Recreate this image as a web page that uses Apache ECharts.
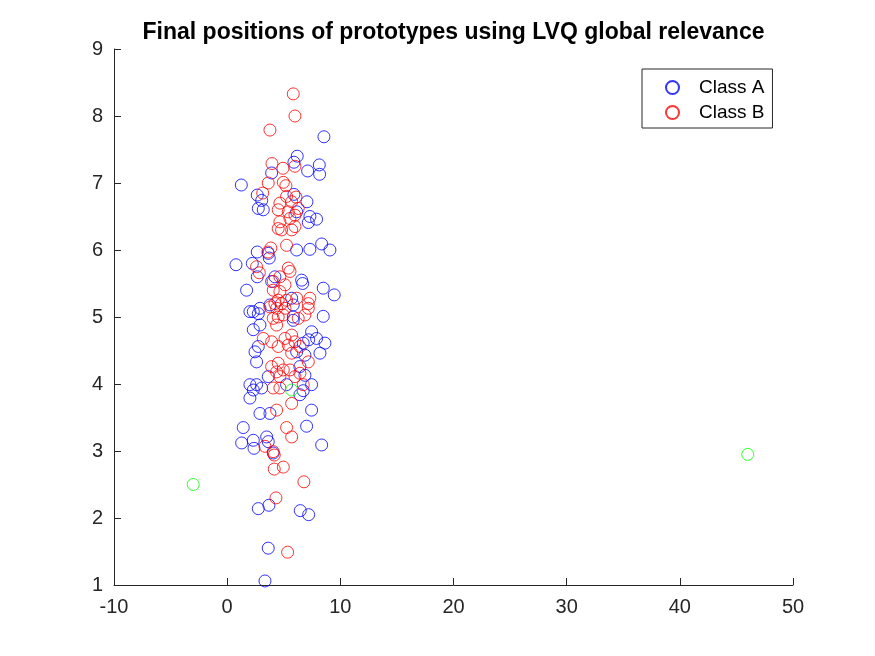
<!DOCTYPE html>
<html>
<head>
<meta charset="utf-8">
<script src="https://cdn.jsdelivr.net/npm/echarts@6/dist/echarts.min.js"></script>
<style>
html,body{margin:0;padding:0;background:#fff;}
#chart{width:875px;height:656px;}
</style>
</head>
<body>
<div id="chart"></div>
<script>
const titleText = 'Final positions of prototypes using LVQ global relevance';
const seriesNames = ['Class A', 'Class B', 'Prototypes'];
const xTicks = [-10, 0, 10, 20, 30, 40, 50];
const yTicks = [1, 2, 3, 4, 5, 6, 7, 8, 9];

const classA = [
  [8.55,7.69],[6.19,7.40],[5.9,7.31],[7.11,7.18],[8.14,7.27],[8.17,7.13],[3.93,7.15],[1.25,6.97],
  [2.66,6.82],[5.9,6.83],[7.05,6.72],[3.05,6.74],[2.75,6.62],[3.19,6.6],[6.14,6.57],[7.31,6.5],
  [7.9,6.46],[7.17,6.41],[6.14,6.0],[7.31,6.01],[8.35,6.09],[9.08,6.0],[2.66,5.97],[3.63,5.95],
  [3.72,5.88],[0.78,5.78],[2.22,5.8],[2.66,5.6],[4.22,5.6],[3.93,5.53],[6.58,5.55],[6.67,5.5],
  [1.72,5.4],[8.49,5.43],[9.46,5.33],[5.7,5.28],[3.78,5.18],[2.9,5.13],[2.31,5.08],[2.01,5.08],
  [2.75,5.05],[5.84,5.18],[8.49,5.01],[5.84,5.0],[2.31,4.81],[2.9,4.88],[7.46,4.78],[7.9,4.68],
  [8.64,4.61],[2.75,4.56],[2.46,4.48],[6.72,4.61],[7.2,4.66],[8.2,4.46],[6.87,4.43],[6.14,4.48],
  [2.6,4.33],[6.43,4.26],[3.63,4.11],[6.87,4.13],[2.01,3.99],[2.6,3.99],[3.05,3.94],[2.31,3.91],
  [5.25,3.99],[7.46,3.99],[6.72,3.9],[2.01,3.79],[6.43,3.84],[2.9,3.56],[3.78,3.56],[7.46,3.61],
  [1.42,3.35],[7.02,3.37],[1.28,3.12],[2.31,3.16],[3.49,3.21],[3.63,3.14],[8.35,3.09],[2.37,3.04],
  [4.07,2.97],[2.75,2.14],[3.69,2.19],[6.46,2.11],[7.2,2.05],[3.63,1.55],[3.34,1.06],[5.84,4.95]
];

const classB = [
  [5.84,8.33],[5.99,8.0],[3.78,7.79],[3.96,7.29],[4.93,7.22],[5.99,7.25],[3.63,7.0],[4.96,7.01],
  [5.19,6.96],[3.14,6.85],[5.25,6.8],[6.08,6.79],[4.66,6.70],[5.7,6.72],[4.51,6.6],[5.4,6.57],
  [6.28,6.62],[5.99,6.52],[4.66,6.42],[5.55,6.47],[4.51,6.32],[4.81,6.3],[5.99,6.35],[5.7,6.3],
  [5.25,6.07],[3.86,6.03],[3.6,5.97],[2.6,5.75],[2.84,5.66],[5.4,5.73],[5.55,5.68],[4.66,5.6],
  [4.07,5.53],[5.11,5.48],[4.07,5.4],[4.66,5.38],[7.31,5.28],[6.14,5.28],[4.51,5.25],[5.25,5.25],
  [4.22,5.2],[4.81,5.2],[3.78,5.15],[4.37,5.13],[5.11,5.13],[7.17,5.2],[7.17,5.13],[6.87,5.03],
  [6.28,4.98],[4.51,5.0],[4.96,5.03],[4.07,4.98],[4.37,4.88],[3.19,4.68],[3.93,4.63],[4.51,4.56],
  [5.11,4.68],[5.7,4.73],[5.99,4.63],[5.4,4.58],[6.43,4.56],[5.7,4.46],[7.17,4.33],[3.93,4.26],
  [4.51,4.31],[4.96,4.21],[4.37,4.18],[5.55,4.21],[5.99,4.11],[4.66,4.11],[6.43,4.16],[4.07,3.94],
  [4.66,3.94],[6.72,3.99],[5.7,3.71],[4.37,3.61],[5.25,3.35],[5.7,3.21],[3.34,3.07],[4.07,2.99],
  [4.16,2.94],[4.16,2.73],[4.96,2.76],[6.78,2.54],[4.31,2.30],[5.34,1.49]
];

const prototypes = [[-3.0,2.5],[46.0,2.95],[5.7,3.91]];

const FONT = 'Arial, "Liberation Sans", Helvetica, sans-serif';
const AX = '#262626';

const chart = echarts.init(document.getElementById('chart'), null, {renderer:'canvas'});
chart.setOption({
  animation: false,
  backgroundColor: '#ffffff',
  title: {
    text: titleText,
    left: 453.5,
    textAlign: 'center',
    top: 21,
    padding: 0,
    textStyle: {fontFamily: FONT, fontSize: 23, fontWeight: 'bold', color: '#000', lineHeight: 23}
  },
  legend: {
    data: ['Class A', 'Class B'],
    orient: 'vertical',
    left: 642,
    top: 69,
    padding: [9, 8, 6, 23],
    itemGap: 6,
    itemWidth: 13,
    itemHeight: 13,
    borderColor: AX,
    borderWidth: 1,
    borderRadius: 0,
    backgroundColor: '#fff',
    textStyle: {fontFamily: FONT, fontSize: 19, color: '#000', padding: [0, 0, 0, 15], lineHeight: 15}
  },
  grid: {left: 114, right: 82, top: 49, bottom: 71, containLabel: false},
  xAxis: {
    type: 'value', min: -10, max: 50, interval: 10,
    axisLine: {show: true, onZero: false, lineStyle: {color: AX, width: 1}},
    axisTick: {show: true, inside: true, length: 7, lineStyle: {color: AX}},
    axisLabel: {fontFamily: FONT, fontSize: 20, color: AX, margin: 12,
      formatter: v => xTicks.includes(v) ? String(v) : ''},
    splitLine: {show: false}
  },
  yAxis: {
    type: 'value', min: 1, max: 9, interval: 1,
    axisLine: {show: true, onZero: false, lineStyle: {color: AX, width: 1}},
    axisTick: {show: true, inside: true, length: 7, lineStyle: {color: AX}},
    axisLabel: {fontFamily: FONT, fontSize: 20, color: AX, margin: 11,
      formatter: v => yTicks.includes(v) ? String(v) : ''},
    splitLine: {show: false}
  },
  series: [
    {name: seriesNames[0], type: 'scatter', data: classA, symbol: 'circle', symbolSize: 12,
     itemStyle: {color: 'rgba(0,0,0,0)', borderColor: '#0000ff', borderWidth: 1}, emphasis: {disabled: true}},
    {name: seriesNames[1], type: 'scatter', data: classB, symbol: 'circle', symbolSize: 12,
     itemStyle: {color: 'rgba(0,0,0,0)', borderColor: '#ff0000', borderWidth: 1}, emphasis: {disabled: true}},
    {name: seriesNames[2], type: 'scatter', data: prototypes, symbol: 'circle', symbolSize: 12,
     itemStyle: {color: 'rgba(0,0,0,0)', borderColor: '#00ff00', borderWidth: 1}, emphasis: {disabled: true}}
  ]
});
</script>
</body>
</html>
